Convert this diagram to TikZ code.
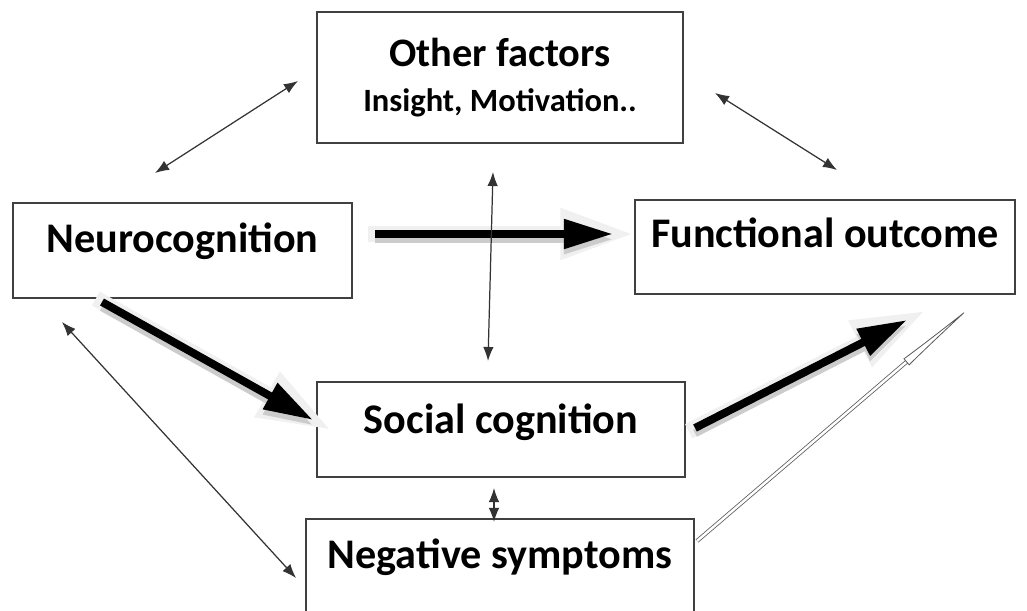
\documentclass[tikz,border=0pt]{standalone}
\usepackage{fontspec}
\setmainfont{Carlito}
\usetikzlibrary{arrows.meta,calc}

\tikzset{
  box/.style={draw=black!75, line width=0.9pt, inner sep=0pt, font=\bfseries\fontsize{24}{28}\selectfont},
  link/.style={draw=black!80, line width=0.7pt, {Latex[length=8pt,width=6pt]}-{Latex[length=8pt,width=6pt]}},
  glow/.style={line width=9pt, gray!12, -{Triangle[length=42pt,width=27pt]}},
  shade/.style={line width=4.5pt, gray!40, -{Triangle[length=28pt,width=16pt]}},
  fat/.style={line width=4.5pt, black, -{Triangle[length=28pt,width=16pt]}},
}

\begin{document}
\begin{tikzpicture}[x=0.02cm,y=-0.02cm]
\clip (0,0) rectangle (1027,611);
\fill[white] (0,0) rectangle (1027,611);

% boxes
\node[box, minimum width=7.32cm, minimum height=2.62cm, align=center, font=\bfseries\fontsize{23}{25.5}\selectfont] (other) at (500,77.5)
  {Other factors\\ {\fontsize{18.5}{25.5}\selectfont Insight, Motivation..}};
\node[box, minimum width=6.78cm, minimum height=1.9cm, text height=16pt, text depth=13.2pt] (neuro) at (182.5,250.5) {Neurocognition};
\node[box, minimum width=7.6cm, minimum height=1.88cm, text height=16pt, text depth=15.5pt] (func) at (825,247) {Functional outcome};
\node[box, minimum width=7.36cm, minimum height=1.9cm, text height=16pt, text depth=12pt] (social) at (501,429.5) {Social cognition};
\node[box, minimum width=7.76cm, minimum height=2.62cm, text height=16pt, text depth=34.7pt] (neg) at (500,584.5) {Negative symptoms};

% end points
\coordinate (n1) at (375,234);  \coordinate (f1) at (613,234);
\coordinate (n2) at (102,302);  \coordinate (s1) at (313,420);
\coordinate (s2) at (695,428);  \coordinate (f2) at (907,320);
\coordinate (g1) at (697,541);  \coordinate (g2) at (973,305);

% thick arrows
\foreach \a/\b in {n1/f1,n2/s1,s2/f2}{
  \draw[glow] ($(\a)!-4pt!(\b)$) -- ($(\b)!-12pt!(\a)$);
  \draw[shade] ([yshift=-3pt]\a) -- ([yshift=-3pt]\b);
  \draw[fat] (\a) -- (\b);
}

% double line
\draw[draw=black!65, line width=0.45pt, double=white, double distance=1.4pt,
  -{Latex[open,length=50pt,width=5pt]}] (g1) -- (g2);

% thin links
\coordinate (l1a) at (155,173); \coordinate (l1b) at (298,81);
\coordinate (l2a) at (715,93);  \coordinate (l2b) at (837,170);
\coordinate (l3a) at (493,172); \coordinate (l3b) at (488,361);
\coordinate (l4a) at (62,322);  \coordinate (l4b) at (296,578);
\coordinate (l5a) at (494,488); \coordinate (l5b) at (494,522);
\foreach \a/\b in {l1a/l1b,l2a/l2b,l3a/l3b,l4a/l4b,l5a/l5b}
  \draw[link] (\a) -- (\b);
\end{tikzpicture}
\end{document}
